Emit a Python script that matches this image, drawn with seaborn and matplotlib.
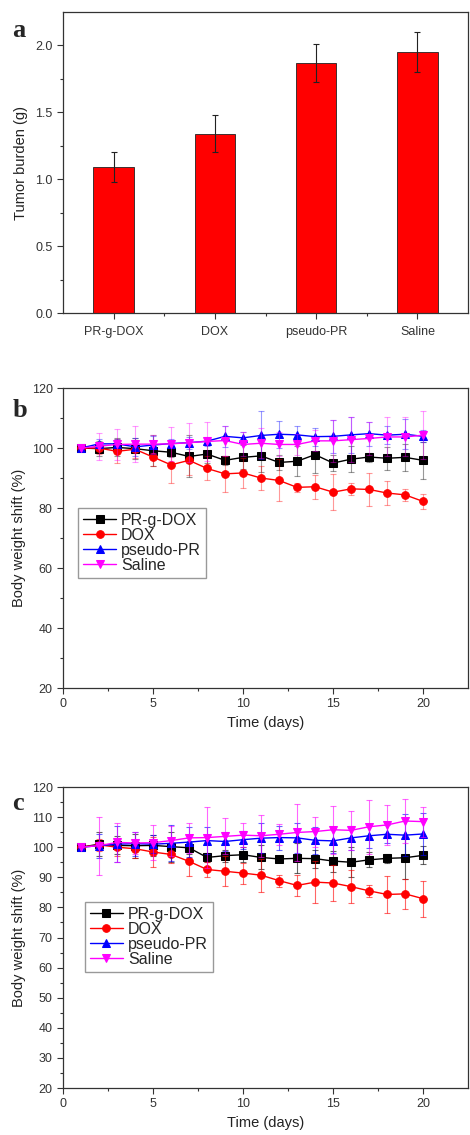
import numpy as np
import pandas as pd
import matplotlib
matplotlib.use("Agg")
import matplotlib.pyplot as plt
import seaborn as sns

# %% data
groups = ["PR-g-DOX", "DOX", "pseudo-PR", "Saline"]
tumor_burden = [1.09, 1.34, 1.87, 1.95]
tumor_err = [0.11, 0.14, 0.14, 0.15]

days = list(range(1, 21))

# panel b
b_prg = [100, 99.8, 100.2, 99.8, 99.1, 98.6, 97.2, 98.0, 95.9, 96.9, 97.4, 95.2, 95.6, 97.8, 95.0, 96.3, 97.0, 96.6, 96.9, 95.9]
b_prg_err = [0, 2.5, 3, 3.6, 5.2, 1.5, 7, 3, 1.5, 4, 5.5, 2.5, 5, 6, 2.8, 4.3, 1.5, 3.8, 4.4, 6.1]
b_dox = [100, 100, 98.9, 99.6, 97.0, 94.4, 95.9, 93.2, 91.4, 91.7, 90.0, 89.2, 86.9, 87.1, 85.3, 86.4, 86.2, 85.0, 84.4, 82.2]
b_dox_err = [0, 2, 4, 3, 3, 6, 5, 4, 6, 5, 4, 7, 1.5, 4, 6, 2, 5.5, 4, 2, 2.5]
b_pse = [100, 101.4, 101.4, 100.4, 101.0, 101.5, 101.8, 102.3, 103.9, 103.4, 104.2, 104.6, 104.4, 103.8, 103.9, 104.4, 104.8, 104.3, 104.6, 103.9]
b_pse_err = [0, 1.5, 1.5, 3, 3, 1.5, 2, 1.5, 3.5, 2, 8, 4.5, 3, 3, 5.5, 6, 4, 3, 5, 2]
b_sal = [100, 100.6, 101.2, 101.3, 101.3, 101.4, 101.8, 102.2, 102.5, 101.2, 101.6, 101.2, 101.2, 102.4, 102.4, 102.8, 103.2, 103.7, 103.7, 104.3]
b_sal_err = [0, 4.5, 5.3, 6, 3, 5.6, 6.5, 6.5, 5, 4, 5, 4, 3.5, 3.5, 7, 7.5, 5.5, 6.5, 6.5, 8]

# panel c
c_prg = [100, 101.0, 100.6, 100.5, 100.6, 100.2, 99.8, 96.6, 97.2, 97.5, 96.6, 96.1, 96.3, 96.2, 95.4, 95.0, 95.8, 96.3, 96.5, 97.3]
c_prg_err = [0, 4, 3, 4, 3.5, 5, 2, 1.5, 2, 2.5, 4, 1, 5, 3, 3.5, 5, 2.5, 1.5, 7, 3]
c_dox = [100, 100.8, 100.0, 99.5, 98.4, 97.6, 95.3, 92.6, 92.0, 91.4, 90.7, 88.9, 87.3, 88.4, 88.1, 86.9, 85.5, 84.3, 84.5, 82.9]
c_dox_err = [0, 2, 3, 3, 5, 3, 5, 2.5, 5, 3.5, 5.5, 2, 3.5, 7, 6, 5.5, 2, 6, 5, 6]
c_pse = [100, 100.5, 101.0, 101.2, 101.0, 101.3, 101.7, 102.2, 101.9, 102.5, 103.0, 103.2, 103.1, 102.3, 102.1, 103.1, 103.8, 104.3, 104.0, 104.4]
c_pse_err = [0, 4, 6, 4, 3, 6, 5, 4.5, 3, 3, 5, 4, 5, 4.5, 4, 4, 4, 3, 7, 7]
c_sal = [100, 100.5, 101.6, 101.4, 101.5, 102.2, 103.1, 103.2, 103.6, 104.0, 103.8, 104.3, 104.9, 105.2, 105.8, 105.6, 106.8, 107.4, 108.7, 108.5]
c_sal_err = [0, 9.7, 6.4, 3.5, 5.8, 5, 5, 10, 6, 4, 7, 3.5, 9.5, 5, 8, 6.5, 9, 6.5, 7.4, 5]

# %% style
sns.set_style("ticks")
plt.rcParams["font.family"] = ["Liberation Sans", "DejaVu Sans"]
plt.rcParams["axes.edgecolor"] = "#333333"
plt.rcParams["xtick.color"] = "#333333"
plt.rcParams["ytick.color"] = "#333333"
plt.rcParams["axes.labelcolor"] = "#222222"

fig = plt.figure(figsize=(4.7, 11.35), dpi=100)
ax_a = fig.add_axes([0.134, 0.7242, 0.862, 0.2652])
ax_b = fig.add_axes([0.134, 0.3938, 0.862, 0.2643])
ax_c = fig.add_axes([0.134, 0.0414, 0.862, 0.2652])


def style_ticks(ax):
    ax.tick_params(which="major", direction="out", length=4, width=0.8, labelsize=9)
    ax.tick_params(which="minor", direction="out", length=2.5, width=0.8)
    for s in ax.spines.values():
        s.set_linewidth(0.9)
        s.set_visible(True)


# %% panel a
df_a = pd.DataFrame({"group": groups, "burden": tumor_burden})
sns.barplot(data=df_a, x="group", y="burden", ax=ax_a, color="#ff0000",
            width=0.4, edgecolor="#222222", linewidth=0.6, saturation=1, errorbar=None)
ax_a.errorbar(range(len(groups)), tumor_burden, yerr=tumor_err, fmt="none",
              ecolor="#222222", elinewidth=0.8, capsize=2.5, capthick=0.8)
ax_a.set_xlim(-0.5, 3.5)
ax_a.set_ylim(0, 2.25)
ax_a.set_yticks(np.arange(0, 2.01, 0.5))
ax_a.set_yticks(np.arange(0.25, 2.25, 0.5), minor=True)
ax_a.set_xticks([0.5, 1.5, 2.5], minor=True)
ax_a.set_xlabel("")
ax_a.set_ylabel("Tumor burden (g)", fontsize=10.5, labelpad=5)
style_ticks(ax_a)
ax_a.tick_params(axis="x", which="major", pad=5)


# %% panels b, c
def weight_panel(ax, series, err_alpha, yticks, yminor, legend_xy):
    for label, vals, errs, color, marker in series:
        sns.lineplot(x=days, y=vals, ax=ax, color=color, marker=marker,
                     markersize=5.5, markeredgecolor=color, linewidth=1.0, label=label)
        ax.errorbar(days, vals, yerr=errs, fmt="none", ecolor=color,
                    elinewidth=0.8, capsize=2.5, capthick=0.8, alpha=err_alpha)
    ax.set_xlim(0, 22.5)
    ax.set_ylim(20, 120)
    ax.set_xticks(np.arange(0, 21, 5))
    ax.set_xticks(np.arange(2.5, 22.5, 5), minor=True)
    ax.set_yticks(yticks)
    ax.set_yticks(yminor, minor=True)
    ax.set_xlabel("Time (days)", fontsize=10.5)
    ax.set_ylabel("Body weight shift (%)", fontsize=10.5)
    ax.legend(loc="upper left", bbox_to_anchor=legend_xy, fontsize=11.5,
              frameon=True, fancybox=False, edgecolor="#999999", framealpha=1,
              handlelength=2.1, labelspacing=0.0, borderpad=0.3,
              handletextpad=0.3, borderaxespad=0)
    style_ticks(ax)


weight_panel(
    ax_b,
    [("PR-g-DOX", b_prg, b_prg_err, "black", "s"),
     ("DOX", b_dox, b_dox_err, "#ff0000", "o"),
     ("pseudo-PR", b_pse, b_pse_err, "#0000ff", "^"),
     ("Saline", b_sal, b_sal_err, "#ff00ff", "v")],
    0.4, np.arange(20, 121, 20), np.arange(30, 120, 20), (0.037, 0.6),
)
weight_panel(
    ax_c,
    [("PR-g-DOX", c_prg, c_prg_err, "black", "s"),
     ("DOX", c_dox, c_dox_err, "#ff0000", "o"),
     ("pseudo-PR", c_pse, c_pse_err, "#0000ff", "^"),
     ("Saline", c_sal, c_sal_err, "#ff00ff", "v")],
    0.6, np.arange(20, 121, 10), np.arange(25, 120, 10), (0.054, 0.618),
)

# panel letters
for x, y, s in [(0.026, 0.967, "a"), (0.027, 0.6326, "b"), (0.026, 0.2863, "c")]:
    fig.text(x, y, s, fontsize=19, fontweight="bold", va="baseline",
             family=["Liberation Serif", "DejaVu Serif"])

fig.savefig("out.png", dpi=100)
